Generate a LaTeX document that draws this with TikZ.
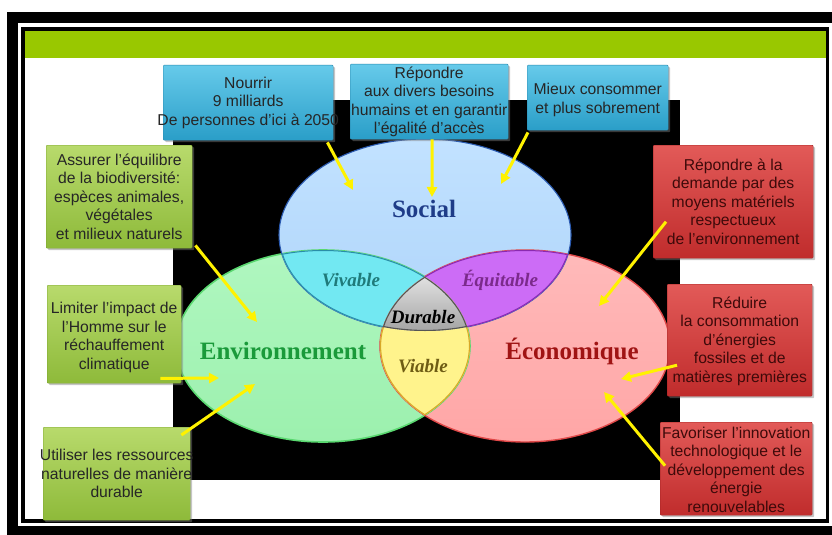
\documentclass[tikz,border=0pt]{standalone}
\usepackage{fontspec}
\setmainfont{Liberation Serif}
\setsansfont{Liberation Sans}
\usetikzlibrary{arrows.meta,shadows,calc}
\definecolor{hdrgreen}{HTML}{99C800}
\definecolor{socfill}{HTML}{C2E2FF}
\definecolor{socfillb}{HTML}{AED4FA}
\definecolor{socline}{HTML}{2A5AB0}
\definecolor{envfill}{HTML}{B0F7C0}
\definecolor{envfillb}{HTML}{9CF0AE}
\definecolor{envline}{HTML}{5AD870}
\definecolor{ecofill}{HTML}{FFBABA}
\definecolor{ecofillb}{HTML}{FFA6A6}
\definecolor{ecoline}{HTML}{E04848}
\definecolor{vivfill}{HTML}{72E8F2}
\definecolor{vivline}{HTML}{2A8EA8}
\definecolor{equfill}{HTML}{CC6CF6}
\definecolor{equline}{HTML}{8A2AB0}
\definecolor{viafill}{HTML}{FFF38C}
\definecolor{vialine}{HTML}{D8A828}
\definecolor{durtop}{HTML}{E8E8E8}
\definecolor{durbot}{HTML}{A0A0A0}
\definecolor{durline}{HTML}{555555}
\definecolor{soctext}{HTML}{1F3C88}
\definecolor{envtext}{HTML}{1A9A3A}
\definecolor{ecotext}{HTML}{A01414}
\definecolor{vivtext}{HTML}{1F7A7A}
\definecolor{equtext}{HTML}{7B2A8B}
\definecolor{viatext}{HTML}{6E5C14}
\definecolor{bluetop}{HTML}{66CAEA}
\definecolor{bluebot}{HTML}{2A9EC8}
\definecolor{blueline}{HTML}{2A88AE}
\definecolor{greentop}{HTML}{B8DA6C}
\definecolor{greenbot}{HTML}{8EBA3A}
\definecolor{greenline}{HTML}{7AA22E}
\definecolor{redtop}{HTML}{E25A58}
\definecolor{redbot}{HTML}{C02C2C}
\definecolor{redline}{HTML}{A22222}
\definecolor{redtext}{HTML}{3E0A0A}
\definecolor{arrowyellow}{HTML}{FFF200}
\tikzset{
  boxbase/.style={rectangle, inner sep=0pt, anchor=north west, rounded corners=1pt,
    drop shadow={shadow xshift=2pt, shadow yshift=-2pt, opacity=0.45}},
  bluebox/.style={boxbase, draw=blueline, top color=bluetop, bottom color=bluebot},
  greenbox/.style={boxbase, draw=greenline, top color=greentop, bottom color=greenbot},
  redbox/.style={boxbase, draw=redline, top color=redtop, bottom color=redbot},
  boxtext/.style={align=center, inner sep=0pt, font=\sffamily\fontsize{15.7}{18.5}\selectfont, text=black!85},
  redboxtext/.style={boxtext, text=redtext},
  bigword/.style={font=\rmfamily\bfseries\fontsize{25}{28}\selectfont, inner sep=0pt},
  smallword/.style={font=\rmfamily\bfseries\itshape\fontsize{19}{21}\selectfont, inner sep=0pt},
  arr/.style={draw=arrowyellow, line width=3pt, -{Triangle[length=10pt,width=10pt]}},
}
\begin{document}
\begin{tikzpicture}[x=1pt,y=-1pt]
\useasboundingbox (0,0) rectangle (832,535);
% frame
\fill[white] (0,0) rectangle (832,535);
\fill[black] (7,12) rectangle (850,550);
\fill[white] (18,23) rectangle (832,526);
\fill[black] (21,27) rectangle (829,523);
\fill[white] (25,31) rectangle (826,519);
\fill[hdrgreen] (25,31) rectangle (826,58);
% black background
\fill[black] (173,100) rectangle (680,480);
% ellipses
\shade[top color=envfill, bottom color=envfillb] (323,346) ellipse [x radius=147pt, y radius=96pt];
\shade[top color=ecofill, bottom color=ecofillb] (525,346) ellipse [x radius=145pt, y radius=96pt];
\shade[top color=socfill, bottom color=socfillb] (425,235) ellipse [x radius=146pt, y radius=96pt];
\draw[envline, line width=1.6pt] (323,346) ellipse [x radius=147pt, y radius=96pt];
\draw[ecoline, line width=1.4pt] (525,346) ellipse [x radius=145pt, y radius=96pt];
\draw[socline, line width=1.1pt] (425,235) ellipse [x radius=146pt, y radius=96pt];
% Vivable
\begin{scope}
  \clip (425,235) ellipse [x radius=146pt, y radius=96pt];
  \clip (323,346) ellipse [x radius=147pt, y radius=96pt];
  \fill[vivfill] (173,100) rectangle (680,480);
  \draw[vivline, line width=2pt] (425,235) ellipse [x radius=146pt, y radius=96pt];
  \draw[vivline, line width=2pt] (323,346) ellipse [x radius=147pt, y radius=96pt];
\end{scope}
% Equitable
\begin{scope}
  \clip (425,235) ellipse [x radius=146pt, y radius=96pt];
  \clip (525,346) ellipse [x radius=145pt, y radius=96pt];
  \fill[equfill] (173,100) rectangle (680,480);
  \draw[equline, line width=2pt] (425,235) ellipse [x radius=146pt, y radius=96pt];
  \draw[equline, line width=2pt] (525,346) ellipse [x radius=145pt, y radius=96pt];
\end{scope}
% Viable
\begin{scope}
  \clip (323,346) ellipse [x radius=147pt, y radius=96pt];
  \clip (525,346) ellipse [x radius=145pt, y radius=96pt];
  \fill[viafill] (173,100) rectangle (680,480);
  \draw[vialine, line width=2.2pt] (323,346) ellipse [x radius=147pt, y radius=96pt];
  \draw[vialine, line width=2.2pt] (525,346) ellipse [x radius=145pt, y radius=96pt];
\end{scope}
% Durable
\begin{scope}
  \clip (425,235) ellipse [x radius=146pt, y radius=96pt];
  \clip (323,346) ellipse [x radius=147pt, y radius=96pt];
  \clip (525,346) ellipse [x radius=145pt, y radius=96pt];
  \shade[top color=durtop, bottom color=durbot] (370,270) rectangle (480,335);
  \draw[durline, line width=2.2pt] (425,235) ellipse [x radius=146pt, y radius=96pt];
  \draw[durline, line width=2.2pt] (323,346) ellipse [x radius=147pt, y radius=96pt];
  \draw[durline, line width=2.2pt] (525,346) ellipse [x radius=145pt, y radius=96pt];
\end{scope}
% labels
\node[bigword, text=soctext] (social) at (424,209) {Social};
\node[bigword, text=envtext] (env) at (283,351) {Environnement};
\node[bigword, text=ecotext] (eco) at (572,351) {Économique};
\node[smallword, text=vivtext] (viv) at (351,280) {Vivable};
\node[smallword, text=equtext] (equ) at (500,280) {Équitable};
\node[smallword, text=black] (dur) at (423,317) {Durable};
\node[smallword, text=viatext] (via) at (423,366) {Viable};
% top boxes
\node[bluebox, minimum width=170pt, minimum height=75pt] (b1) at (163,65) {};
\node[boxtext] (b1t) at (b1.center) {Nourrir\\9 milliards\\De personnes d’ici à 2050};
\node[bluebox, minimum width=158pt, minimum height=75pt] (b2) at (350,64) {};
\node[boxtext] (b2t) at (b2.center) {Répondre\\aux divers besoins\\humains et en garantir\\l’égalité d’accès};
\node[bluebox, minimum width=141pt, minimum height=65pt] (b3) at (527,65) {};
\node[boxtext] (b3t) at ($(b3.center)+(0,2)$) {Mieux consommer\\et plus sobrement};
% left boxes
\node[greenbox, minimum width=146pt, minimum height=103pt] (g1) at (46,145) {};
\node[boxtext] (g1t) at (g1.center) {Assurer l’équilibre\\de la biodiversité:\\espèces animales,\\végétales\\et milieux naturels};
\node[greenbox, minimum width=134pt, minimum height=98pt] (g2) at (47,285) {};
\node[boxtext] (g2t) at ($(g2.center)+(0,3)$) {Limiter l’impact de\\l’Homme sur le\\réchauffement\\climatique};
\node[greenbox, minimum width=147pt, minimum height=93pt] (g3) at (43,427) {};
\node[boxtext] (g3t) at ($(g3.center)+(0,0)$) {Utiliser les ressources\\naturelles de manière\\durable};
% right boxes
\node[redbox, minimum width=160pt, minimum height=113pt] (r1) at (653,145) {};
\node[redboxtext] (r1t) at (r1.center) {Répondre à la\\demande par des\\moyens matériels\\respectueux\\de l’environnement};
\node[redbox, minimum width=145pt, minimum height=112pt] (r2) at (667,284) {};
\node[redboxtext] (r2t) at ($(r2.center)+(0,1)$) {Réduire\\la consommation\\d’énergies\\fossiles et de\\matières premières};
\node[redbox, minimum width=152pt, minimum height=93pt] (r3) at (660,422) {};
\node[redboxtext] (r3t) at ($(r3.center)+(0,1)$) {Favoriser l’innovation\\technologique et le\\développement des\\énergie\\renouvelables};
% arrow heads
\coordinate (h1) at (353,190);
\coordinate (h2) at (432,197);
\coordinate (h3) at (501,184);
\coordinate (h4) at (257,322);
\coordinate (h5) at (219,378);
\coordinate (h6) at (255,384);
\coordinate (h7) at (599,306);
\coordinate (h8) at (621,379);
\coordinate (h9) at (604,392);
% arrows
\draw[arr] ($(b1.south east)+(-6,2)$) -- (h1);
\draw[arr] ($(b2.south)+(3,0)$) -- (h2);
\draw[arr] ($(b3.south west)+(1,2)$) -- (h3);
\draw[arr] ($(g1.south east)+(3,-3)$) -- (h4);
\draw[arr] ($(g2.south east)+(-21,-5)$) -- (h5);
\draw[arr] ($(g3.north east)+(-9,8)$) -- (h6);
\draw[arr] ($(r1.west)+(13,20)$) -- (h7);
\draw[arr] ($(r2.west)+(10,25)$) -- (h8);
\draw[arr] ($(r3.west)+(5,-3)$) -- (h9);
\end{tikzpicture}
\end{document}
